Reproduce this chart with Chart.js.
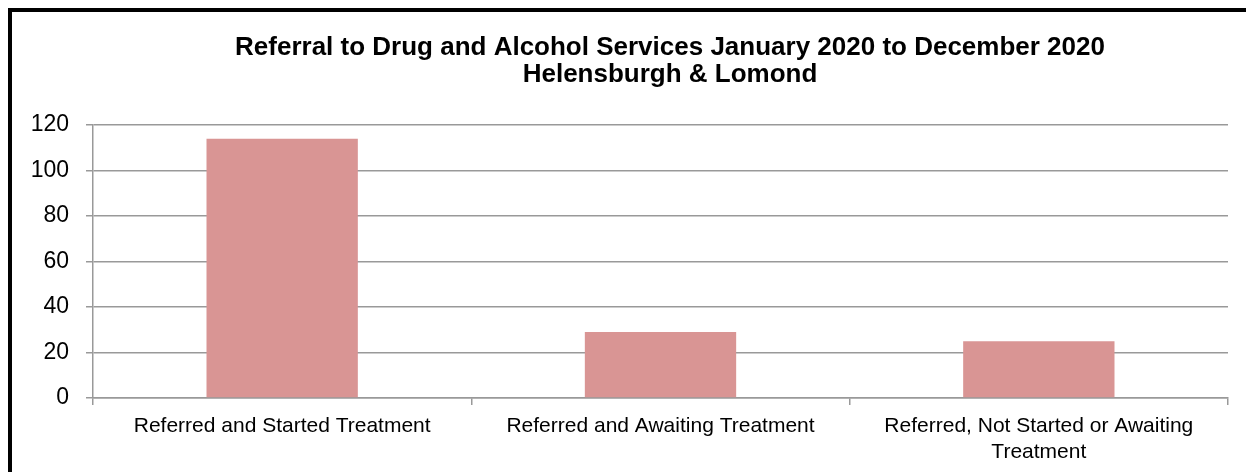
<!DOCTYPE html>
<html>
<head>
<meta charset="utf-8">
<script src="https://cdn.jsdelivr.net/npm/chart.js@4"></script>
<style>
  html, body { margin: 0; padding: 0; background: #fff; overflow: hidden; width: 1246px; height: 472px; }
  #frame { position: absolute; left: 8px; top: 8px; width: 1400px; height: 600px;
           border-left: 4px solid #000; border-top: 4px solid #000; }
  #wrap { position: absolute; left: 12px; top: 12px; width: 1316px; height: 460px; }
</style>
</head>
<body>
<div id="frame"></div>
<div id="wrap"><canvas id="myChart"></canvas></div>
<script>
var categories = [
  'Referred and Started Treatment',
  'Referred and Awaiting Treatment',
  ['Referred, Not Started or Awaiting', 'Treatment']
];
var referrals = [114, 29, 25];
var titleLines = [
  'Referral to Drug and Alcohol Services January 2020 to December 2020',
  'Helensburgh & Lomond'
];

document.addEventListener('DOMContentLoaded', function() {
  var ctx = document.getElementById('myChart').getContext('2d');
  var font = "'Liberation Sans', Arial, sans-serif";

  var myChart = new Chart(ctx, {
    type: 'bar',
    data: {
      labels: categories,
      datasets: [{
        label: 'Referrals',
        data: referrals,
        backgroundColor: '#D99594',
        borderWidth: 0,
        categoryPercentage: 1,
        barPercentage: 0.4
      }]
    },
    options: {
      responsive: true,
      maintainAspectRatio: false,
      animation: false,
      layout: { padding: 0 },
      plugins: {
        legend: { display: false },
        tooltip: { enabled: false },
        title: {
          display: true,
          text: titleLines,
          color: '#000',
          font: { family: font, size: 26, weight: 'bold', lineHeight: 1.04 },
          padding: { top: 22, bottom: 37 }
        }
      },
      scales: {
        x: {
          grid: {
            display: true,
            offset: true,
            drawOnChartArea: false,
            drawTicks: true,
            tickLength: 7,
            color: '#999',
            lineWidth: 1.5
          },
          border: { display: true, color: '#999', width: 1.5 },
          ticks: {
            color: '#000',
            padding: 9,
            maxRotation: 0,
            autoSkip: false,
            font: { family: font, size: 21, lineHeight: 1.2 }
          },
          afterFit: function(scale) { scale.height = 74; }
        },
        y: {
          min: 0,
          max: 120,
          ticks: {
            stepSize: 20,
            color: '#000',
            padding: 17,
            font: { family: font, size: 23 }
          },
          grid: {
            color: '#999',
            lineWidth: 1.5,
            tickLength: 7
          },
          border: { display: true, color: '#999', width: 1.5 },
          afterFit: function(scale) { scale.width = 81; }
        },
        // empty right-hand space so the title centres like the original
        spacer: {
          type: 'linear',
          position: 'right',
          display: true,
          grid: { display: false, drawTicks: false },
          border: { display: false },
          ticks: { display: false },
          afterFit: function(scale) { scale.width = 100; }
        }
      }
    }
  });
});
</script>
</body>
</html>
